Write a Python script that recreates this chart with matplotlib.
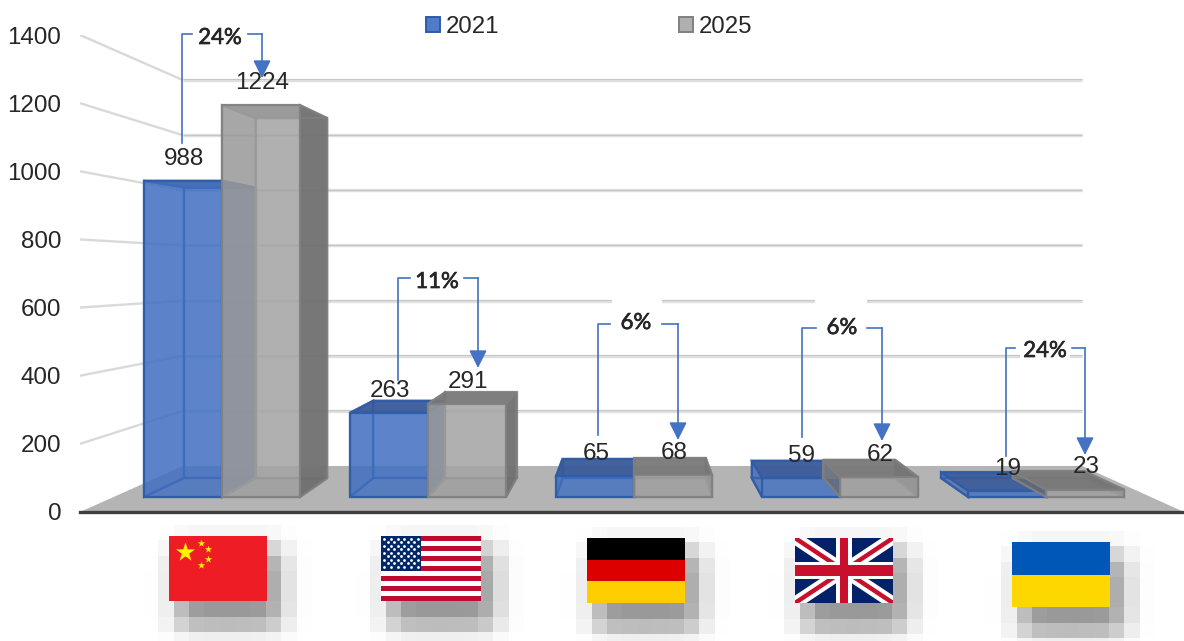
import math
import numpy as np
import matplotlib
matplotlib.use("Agg")
import matplotlib.pyplot as plt
import matplotlib.patheffects as pe
from matplotlib.patches import Polygon, Rectangle, Patch
from matplotlib.colors import to_rgba

plt.rcParams["font.family"] = ["Liberation Sans", "DejaVu Sans"]

# ----------------------
# DATA
# ----------------------
series_names = ["2021", "2025"]
values_2021 = [988, 263, 65, 59, 19]
values_2025 = [1224, 291, 68, 62, 23]
growth_labels = ["24%", "11%", "6%", "6%", "24%"]
y_ticks = [0, 200, 400, 600, 800, 1000, 1200, 1400]

# ----------------------
# LAYOUT (pixels of the 1184x641 picture)
# ----------------------
W, H = 1184, 641
BASE_PX, TOP_PX = 512, 35
LEFT_PX = 80
VANISH_X = 635.0
VANISH_V = (BASE_PX - 264) / (BASE_PX - TOP_PX) * 1400
S_WALL, S_FRONT, S_BACK = 0.8145, 0.9395, 0.863
WALL_V_SCALE = 0.809

bar_x0 = 112.4
bar_step = 219.3
bar_w = 83.0

conn_x_left = [182, 398, 598, 802, 1006]
conn_x_right = [262, 478, 678, 882, 1085]
conn_top = [34, 278, 324, 328, 348]
conn_start = [143, 380, 435, 437, 456]
conn_tip = [78, 368, 440, 441, 455]
text_x = [220, 437, 636, 842, 1045]
text_y = [37, 281, 322, 327, 350]
gap_left = [28, 27, 26, 26, 30]
gap_right = [28, 27, 26, 25, 27]

flag_x = [169, 381, 587, 795, 1012]
flag_y = [536, 536, 538, 538, 542]
flag_w = [98, 100, 98, 98, 98]
flag_h = 65

blue = "#4472C4"
blue_edge = "#2F5CA8"
grey = "#A5A5A5"
grey_edge = "#808080"


def project(x, v, s):
    return VANISH_X + s * (x - VANISH_X), VANISH_V + s * (v - VANISH_V)


def draw_box(ax, x, w, v, front, side, top, edge):
    x1 = x + w
    p = project
    faces = [
        ([p(x, 0, S_BACK), p(x1, 0, S_BACK), p(x1, v, S_BACK), p(x, v, S_BACK)], front, 0.55),
        ([p(x, 0, S_FRONT), p(x1, 0, S_FRONT), p(x1, 0, S_BACK), p(x, 0, S_BACK)], side, 0.35),
        ([p(x, 0, S_FRONT), p(x, v, S_FRONT), p(x, v, S_BACK), p(x, 0, S_BACK)], side, 0.55),
        ([p(x1, 0, S_FRONT), p(x1, v, S_FRONT), p(x1, v, S_BACK), p(x1, 0, S_BACK)], side, 0.9),
        ([p(x, v, S_FRONT), p(x1, v, S_FRONT), p(x1, v, S_BACK), p(x, v, S_BACK)], top, 0.9),
        ([p(x, 0, S_FRONT), p(x1, 0, S_FRONT), p(x1, v, S_FRONT), p(x, v, S_FRONT)], front, 0.7),
    ]
    for pts, col, a in faces:
        ax.add_patch(Polygon(pts, closed=True, facecolor=to_rgba(col, a), edgecolor=to_rgba(edge, 0.85),
                             linewidth=1.6, clip_on=False, zorder=3))


fig = plt.figure(figsize=(W / 100, H / 100), dpi=100)
ax = fig.add_axes([LEFT_PX / W, (H - BASE_PX) / H, (W - LEFT_PX) / W, (BASE_PX - TOP_PX) / H])
ax.set_xlim(LEFT_PX, W)
ax.set_ylim(0, 1400)
ax.patch.set_alpha(0)
for name in ["top", "right", "left"]:
    ax.spines[name].set_visible(False)
ax.spines["bottom"].set_color("#404040")
ax.spines["bottom"].set_linewidth(2.4)
ax.set_xticks([])
ax.set_yticks(y_ticks)
ax.tick_params(axis="y", length=0, pad=13.5, labelsize=17.4, labelcolor="#262626")

# ----------------------
# WALLS + FLOOR
# ----------------------
x_wall_l, v_floor = project(LEFT_PX, 0, S_WALL)
x_wall_r, _ = project(W, 0, S_WALL)
for t in y_ticks[1:]:
    vb = v_floor + t * WALL_V_SCALE
    ax.plot([LEFT_PX, x_wall_l], [t, vb], color="#D9D9D9", lw=1.7, solid_capstyle="butt", zorder=1)
    ax.plot([x_wall_l, x_wall_r], [vb, vb], color="#DEDEDE", lw=2.4, solid_capstyle="butt", zorder=1)
    ax.plot([x_wall_l, x_wall_r], [vb + 2, vb + 2], color="#C6C6C6", lw=0.7, solid_capstyle="butt", zorder=1)

floor = [(LEFT_PX, 0), (W, 0), (x_wall_r, v_floor), (x_wall_l, v_floor)]
ax.add_patch(Polygon(floor, closed=True, facecolor="#B4B4B4", edgecolor="none", zorder=2))

# ----------------------
# BARS
# ----------------------
for i, (a, b) in enumerate(zip(values_2021, values_2025)):
    x = bar_x0 + i * bar_step
    draw_box(ax, x, bar_w, a, blue, "#3E67B3", "#3A5A98", blue_edge)
    draw_box(ax, x + bar_w, bar_w, b, grey, "#6E6E6E", "#777777", grey_edge)
    for xb, v in [(x, a), (x + bar_w, b)]:
        lx, lv = project(xb + bar_w / 2, v, S_FRONT)
        ax.annotate(str(v), (lx, lv), xytext=(0.5, 16), textcoords="offset points",
                    ha="center", va="center", fontsize=17.5, color="#262626", zorder=6)

handles = [Patch(facecolor="#4F7BC8", edgecolor=blue_edge, lw=1.4),
           Patch(facecolor="#B0B0B0", edgecolor=grey_edge, lw=1.4)]
fig.legend(handles, series_names, ncols=2, loc="center", bbox_to_anchor=(589 / W, 1 - 27 / H),
           frameon=False, fontsize=17.3, handlelength=0.58, handleheight=0.58, handletextpad=0.22,
           columnspacing=7.5, labelcolor="#262626")

# ----------------------
# OVERLAY: connectors + flags
# ----------------------
ov = fig.add_axes([0, 0, 1, 1])
ov.set_xlim(0, W)
ov.set_ylim(H, 0)
ov.axis("off")
ov.patch.set_alpha(0)

# white masks behind the two 6% boxes where they cut the gridline
ov.add_patch(Rectangle((612, 296), 50, 12, facecolor="white", edgecolor="none"))
ov.add_patch(Rectangle((815, 296), 52, 12, facecolor="white", edgecolor="none"))

for i, lab in enumerate(growth_labels):
    t = ov.text(text_x[i], text_y[i] + 1, lab, ha="center", va="center", fontsize=16, family="Lato",
                color="#262626", zorder=5, bbox=dict(facecolor="white", edgecolor="none", pad=2.5))
    t.set_path_effects([pe.withStroke(linewidth=0.5, foreground="#262626")])
    ov.plot([conn_x_left[i], conn_x_left[i], text_x[i] - gap_left[i]], [conn_start[i], conn_top[i], conn_top[i]],
            color=blue, lw=1.2, zorder=6)
    ov.plot([text_x[i] + gap_right[i], conn_x_right[i]], [conn_top[i], conn_top[i]], color=blue, lw=1.2, zorder=6)
    ov.annotate("", (conn_x_right[i], conn_tip[i]), xytext=(conn_x_right[i], conn_top[i]),
                arrowprops=dict(arrowstyle="-|>", color=blue, lw=1.2, mutation_scale=27,
                                shrinkA=0, shrinkB=0), zorder=6)


def erf_step(c, a, b, sig):
    return np.array([0.5 * (math.erf((p - a) / sig) - math.erf((p - b) / sig)) for p in c])


def draw_shadow(x, y, w):
    cell = 15.3
    xs = x - 26 + cell * (np.arange(11) + 0.5)
    ys = y - 11 + cell * (np.arange(8) + 0.5)
    fx = erf_step(xs, x + 8, x + w + 14, 16)
    fy = erf_step(ys, y + 12, y + 92, 16)
    shade = 1 - 0.42 * np.outer(fy, fx)
    ov.imshow(shade, cmap="gray", vmin=0, vmax=1, interpolation="nearest", aspect="auto",
              extent=(x - 26, x - 26 + 11 * cell, y - 11 + 8 * cell, y - 11), zorder=1)


def flag_china(x, y, w, h):
    ov.add_patch(Rectangle((x, y), w, h, facecolor="#EE1C25", edgecolor="none", zorder=2))
    ov.scatter([x + w * 0.165], [y + h * 0.25], marker="*", s=210, color="#FFF200", linewidths=0, zorder=3)
    small_x = [0.33, 0.40, 0.40, 0.33]
    small_y = [0.10, 0.20, 0.35, 0.45]
    ov.scatter([x + w * a for a in small_x], [y + h * b for b in small_y], marker="*", s=32,
               color="#FFF200", linewidths=0, zorder=3)


def flag_usa(x, y, w, h):
    ov.add_patch(Rectangle((x, y), w, h, facecolor="white", edgecolor="none", zorder=2))
    for k in range(0, 13, 2):
        ov.add_patch(Rectangle((x, y + k * h / 13), w, h / 13, facecolor="#BF0A30", edgecolor="none", zorder=2))
    ov.add_patch(Rectangle((x, y), w * 0.4, h * 7 / 13, facecolor="#002868", edgecolor="none", zorder=3))
    sx, sy = [], []
    for row in range(9):
        n = 6 if row % 2 == 0 else 5
        for c in range(n):
            sx.append(x + w * 0.4 * ((c + (0.5 if row % 2 == 0 else 1.0)) / 6))
            sy.append(y + h * 7 / 13 * (row + 0.8) / 10)
    ov.scatter(sx, sy, marker="o", s=4, color="white", linewidths=0, zorder=4)


def flag_germany(x, y, w, h):
    for k, col in enumerate(["#000000", "#DD0000", "#FFCE00"]):
        ov.add_patch(Rectangle((x, y + k * h / 3), w, h / 3, facecolor=col, edgecolor="none", zorder=2))


def flag_uk(x, y, w, h):
    clip = Rectangle((x, y), w, h, transform=ov.transData)
    ov.add_patch(Rectangle((x, y), w, h, facecolor="#012169", edgecolor="none", zorder=2))
    for xs, ys in [([x, x + w], [y, y + h]), ([x, x + w], [y + h, y])]:
        for col, lw in [("white", 9), ("#C8102E", 3.2)]:
            ln, = ov.plot(xs, ys, color=col, lw=lw, zorder=3, solid_capstyle="butt")
            ln.set_clip_path(clip)
    ov.add_patch(Rectangle((x + w * 0.42, y), w * 0.16, h, facecolor="white", edgecolor="none", zorder=4))
    ov.add_patch(Rectangle((x, y + h * 0.37), w, h * 0.26, facecolor="white", edgecolor="none", zorder=4))
    ov.add_patch(Rectangle((x + w * 0.455, y), w * 0.09, h, facecolor="#C8102E", edgecolor="none", zorder=5))
    ov.add_patch(Rectangle((x, y + h * 0.42), w, h * 0.16, facecolor="#C8102E", edgecolor="none", zorder=5))


def flag_ukraine(x, y, w, h):
    ov.add_patch(Rectangle((x, y), w, h / 2, facecolor="#0057B8", edgecolor="none", zorder=2))
    ov.add_patch(Rectangle((x, y + h / 2), w, h / 2, facecolor="#FFD700", edgecolor="none", zorder=2))


flag_funcs = [flag_china, flag_usa, flag_germany, flag_uk, flag_ukraine]
for i, func in enumerate(flag_funcs):
    draw_shadow(flag_x[i], flag_y[i], flag_w[i])
    func(flag_x[i], flag_y[i], flag_w[i], flag_h)

ov.set_xlim(0, W)
ov.set_ylim(H, 0)

fig.savefig("out.png", dpi=100)
